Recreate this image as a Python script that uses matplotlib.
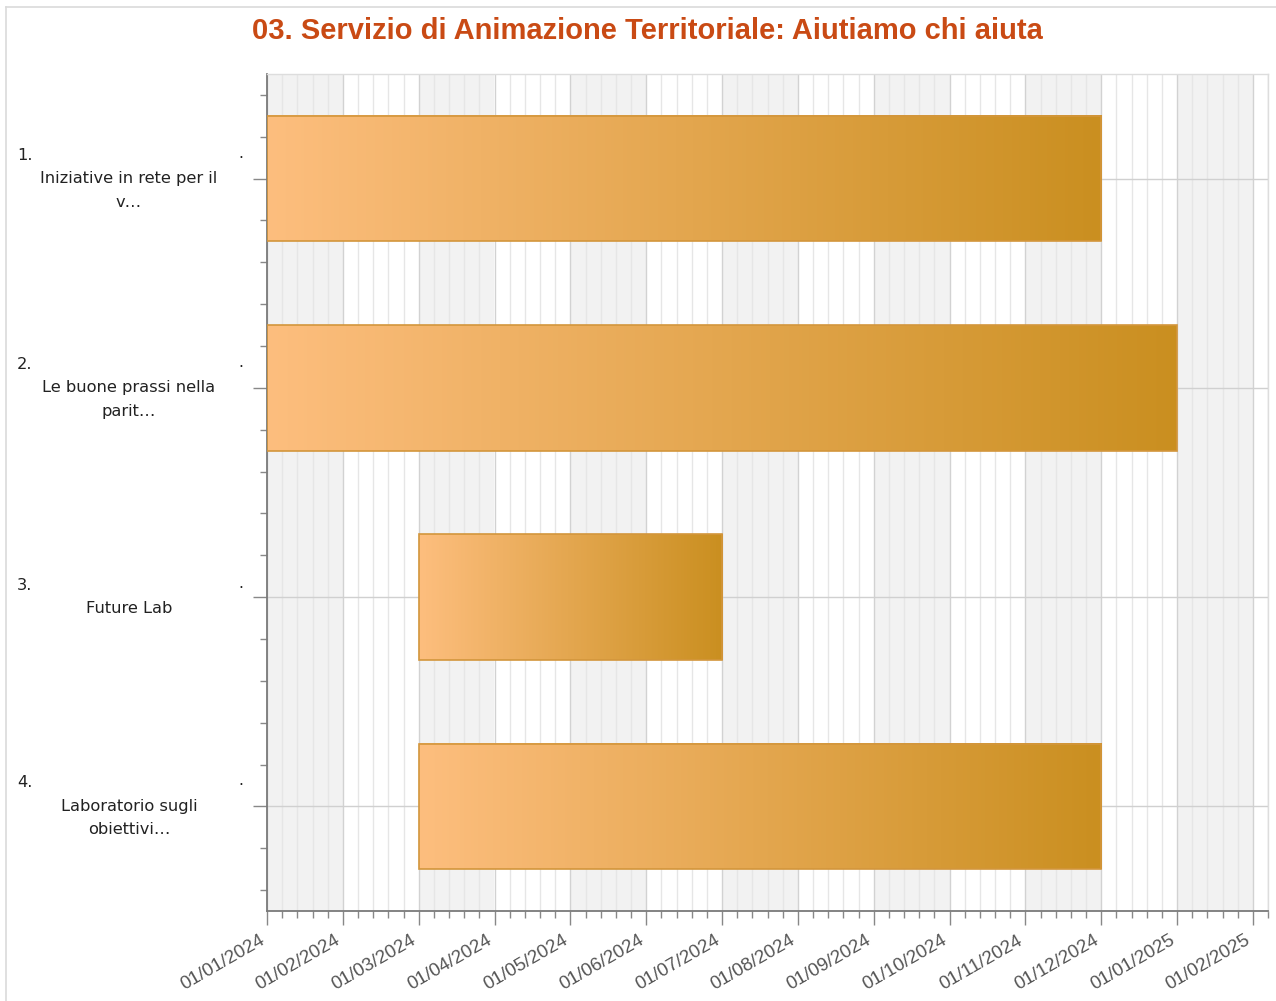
import matplotlib
matplotlib.use("Agg")
import matplotlib.pyplot as plt
import matplotlib.transforms as mtransforms
from matplotlib.lines import Line2D
from matplotlib import font_manager
import numpy as np
import calendar

# ---------------- data ----------------
title = "03. Servizio di Animazione Territoriale: Aiutiamo chi aiuta"
task_numbers = ["1.", "2.", "3.", "4."]
task_labels = [
    ["Iniziative in rete per il", "v…"],
    ["Le buone prassi nella", "parit…"],
    ["Future Lab"],
    ["Laboratorio sugli", "obiettivi…"],
]
task_start = ["2024-01-01", "2024-01-01", "2024-03-01", "2024-03-01"]
task_end = ["2024-12-01", "2025-01-01", "2024-07-01", "2024-12-01"]
tick_labels = ["01/01/2024", "01/02/2024", "01/03/2024", "01/04/2024", "01/05/2024",
               "01/06/2024", "01/07/2024", "01/08/2024", "01/09/2024", "01/10/2024",
               "01/11/2024", "01/12/2024", "01/01/2025", "01/02/2025"]
axis_origin = (2024, 1)


def month_pos(s):
    y, m, d = (int(v) for v in s.split("-"))
    ndays = calendar.monthrange(y, m)[1]
    return (y - axis_origin[0]) * 12 + (m - axis_origin[1]) + (d - 1) / ndays


W, H = 1276, 1001
fig = plt.figure(figsize=(W / 100, H / 100), dpi=100)
fig.patch.set_facecolor("white")

# frame lines of the chart container
fig.add_artist(Line2D([6 / W, 1], [1 - 7 / H, 1 - 7 / H], color="#DADADA", lw=1.2))
fig.add_artist(Line2D([6 / W, 6 / W], [0, 1 - 7 / H], color="#DADADA", lw=1.2))

ax = fig.add_axes([267 / W, 1 - 911 / H, 1001 / W, 837 / H])
nmaj = len(tick_labels)
xmax = nmaj - 1 + 0.2
ax.set_xlim(0, xmax)
ax.set_ylim(len(task_numbers) - 0.5, -0.5)

# alternating month bands
for i in range(nmaj):
    if i % 2 == 0:
        ax.axvspan(i, min(i + 1, xmax), color="#F2F2F2", zorder=0, lw=0)

# grid lines
minor_x = [i + k * 0.2 for i in range(nmaj) for k in range(1, 5) if i + k * 0.2 <= xmax + 1e-9]
minor_x.append(xmax)
for x in minor_x:
    ax.axvline(x, color="#E6E6E6", lw=1.0, zorder=0.5)
for i in range(nmaj):
    ax.axvline(i, color="#D2D2D2", lw=1.0, zorder=0.6)
for j in range(len(task_numbers)):
    ax.axhline(j, color="#D0D0D0", lw=1.0, zorder=0.6)

# gradient bars
c0 = np.array([253, 190, 126]) / 255
c1 = np.array([202, 143, 32]) / 255
t = np.linspace(0, 1, 256)[None, :, None]
grad = c0 * (1 - t) + c1 * t
bh = 0.6
for j in range(len(task_numbers)):
    s, e = month_pos(task_start[j]), month_pos(task_end[j])
    ax.imshow(grad, extent=[s, e, j + bh / 2, j - bh / 2], aspect="auto",
              interpolation="bilinear", zorder=2)
    ax.barh(j, e - s, left=s, height=bh, fill=False, edgecolor="#D3963C",
            lw=1.2, zorder=3)
ax.set_xlim(0, xmax)
ax.set_ylim(len(task_numbers) - 0.5, -0.5)

# ticks
ax.set_xticks(range(nmaj))
ax.set_xticklabels([])
off = mtransforms.ScaledTranslation(-8 / 100, -21 / 100, fig.dpi_scale_trans)
xtr = ax.get_xaxis_transform() + off
for i, lab in enumerate(tick_labels):
    ax.text(i, 0, lab, transform=xtr, rotation=30, ha="right", va="top",
            rotation_mode="anchor", fontsize=13.5, color="#555555",
            family="Liberation Sans", clip_on=False)
ax.set_xticks(minor_x[:-1], minor=True)
ax.set_yticks(range(len(task_numbers)))
ax.set_yticklabels([])
ax.set_yticks([j + k * 0.2 for j in range(len(task_numbers)) for k in (-2, -1, 1, 2)],
              minor=True)
ax.tick_params(axis="both", which="major", length=10, color="#888888", width=1)
ax.tick_params(axis="both", which="minor", length=5, color="#888888", width=1)

for sp in ("left", "bottom"):
    ax.spines[sp].set_color("#7A7A7A")
    ax.spines[sp].set_linewidth(1.3)
for sp in ("top", "right"):
    ax.spines[sp].set_color("#DDDDDD")
    ax.spines[sp].set_linewidth(1.0)

# category labels
tr = mtransforms.blended_transform_factory(fig.transFigure, ax.transData)
d = 23.5 / 209.25
for j in range(len(task_numbers)):
    lines = task_labels[j]
    n = 1 + len(lines)
    ys = [j + (i - (n - 1) / 2) * d for i in range(n)]
    ax.text(17 / W, ys[0], task_numbers[j], transform=tr, ha="left", va="center",
            fontsize=11.7, color="#222222", clip_on=False)
    ax.text(241 / W, ys[0] - 0.01, ".", transform=tr, ha="center", va="center",
            fontsize=11, color="#222222", clip_on=False)
    for i, ln in enumerate(lines):
        ax.text(129 / W, ys[i + 1], ln, transform=tr, ha="center", va="center",
                fontsize=11.7, color="#222222", clip_on=False)

# title
names = {f.name for f in font_manager.fontManager.ttflist}
if "Liberation Sans Narrow" in names:
    fig.text(647 / W, 1 - 31 / H, title, ha="center", va="center", fontsize=26.5,
             fontweight="bold", color="#C94A14", family="Liberation Sans Narrow")
else:
    fig.text(647 / W, 1 - 31 / H, title, ha="center", va="center", fontsize=21,
             fontweight="bold", color="#C94A14", family="Liberation Sans")

fig.savefig("out.png", dpi=100, facecolor="white")
